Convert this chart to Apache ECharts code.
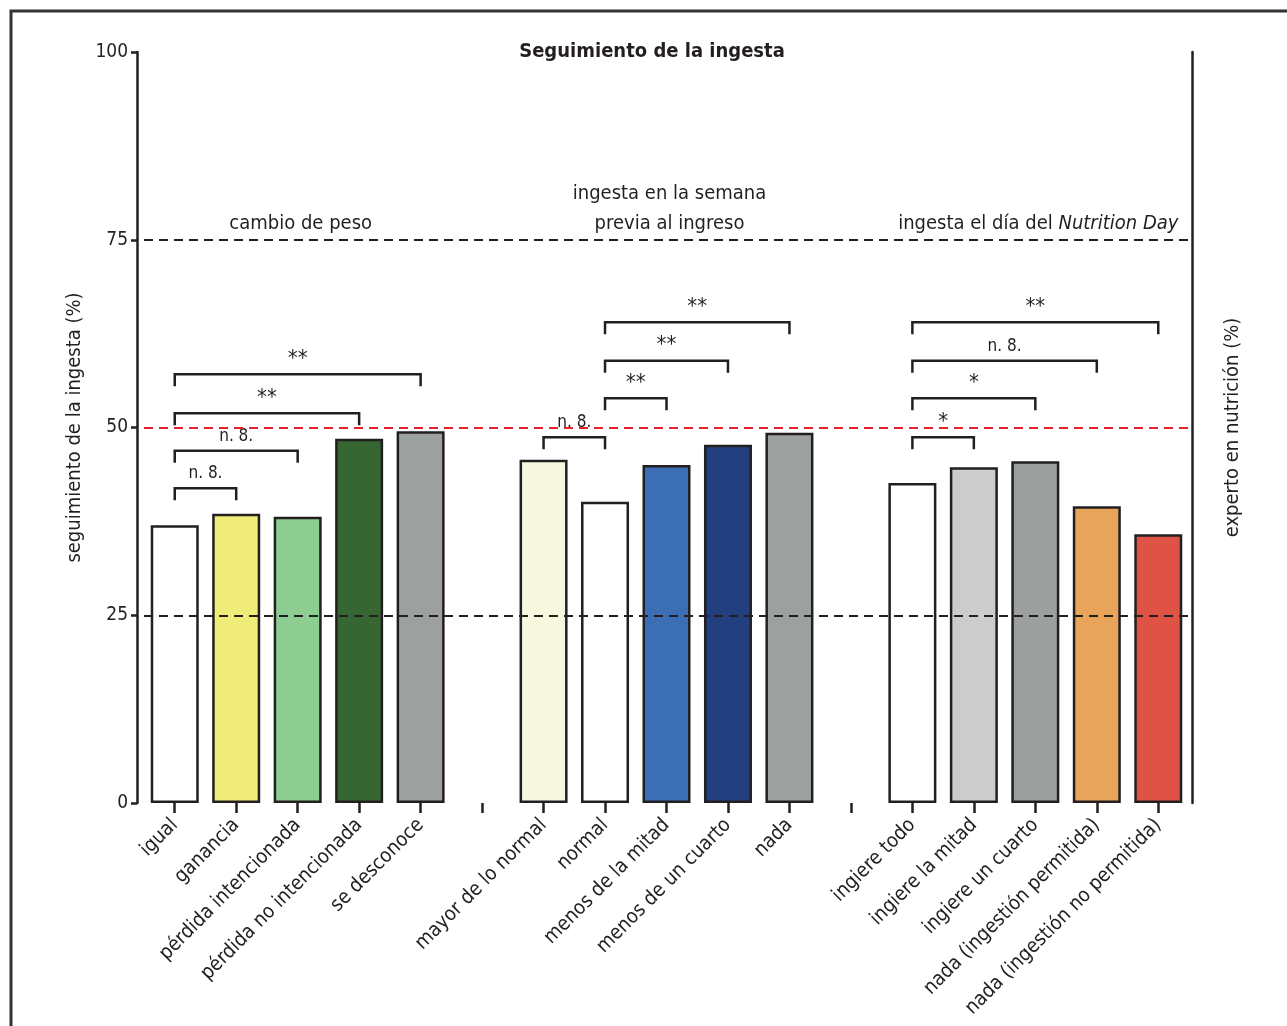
<!DOCTYPE html>
<html>
<head>
<meta charset="utf-8">
<title>Seguimiento de la ingesta</title>
<script src="https://cdn.jsdelivr.net/npm/echarts@6/dist/echarts.min.js"></script>
<style>
  html, body { margin: 0; padding: 0; background: #fff; }
  #main { width: 1287px; height: 1026px; }
</style>
</head>
<body>
<div id="main"></div>
<script>
// categorias (los huecos separan los tres bloques)
var categories = ['igual', 'ganancia', 'pérdida intencionada', 'pérdida no intencionada', 'se desconoce', ' ',
  'mayor de lo normal', 'normal', 'menos de la mitad', 'menos de un cuarto', 'nada', '  ',
  'ingiere todo', 'ingiere la mitad', 'ingiere un cuarto', 'nada (ingestión permitida)', 'nada (ingestión no permitida)']
var values = [37.0, 38.5, 38.1, 48.5, 49.5, null,
  45.7, 40.1, 45.0, 47.7, 49.3, null,
  42.6, 44.7, 45.5, 39.5, 35.8]
var barColors = ['#ffffff', '#efec7a', '#8ecd91', '#366631', '#9ca1a0', null,
  '#f6f8df', '#ffffff', '#3c6eb6', '#233f7f', '#9ca1a0', null,
  '#ffffff', '#cccccc', '#9ba09f', '#e8a45b', '#df5346']
var yTicks = [0, 25, 50, 75, 100]

// corchetes de significacion
var bracketFrom = [0, 0, 0, 0, 6, 7, 7, 7, 12, 12, 12, 12]
var bracketTo = [1, 2, 3, 4, 7, 8, 9, 10, 13, 14, 15, 16]
var bracketLevel = [41.9, 46.9, 51.9, 57.1, 48.7, 53.9, 58.9, 64.0, 48.7, 53.9, 58.9, 64.0]
var bracketLabel = ['n. 8.', 'n. 8.', '**', '**', 'n. 8.', '**', '**', '**', '*', '*', 'n. 8.', '**']

// titulos de cada bloque
var groupPos = [2, 8, 14]
var groupLabel = ['cambio de peso', 'ingesta en la semana\nprevia al ingreso', 'ingesta el día del {it|Nutrition Day}']

var FONT = "'DejaVu Sans Condensed', 'Liberation Sans Narrow', 'Roboto', sans-serif"
var INK = '#231f20'

var chart = echarts.init(document.getElementById('main'))

var barData = values.map(function (v, i) {
  if (v == null) return '-'
  return { value: v, itemStyle: { color: barColors[i] } }
})

var option = {
  animation: false,
  textStyle: { fontFamily: FONT },
  grid: { left: 144, right: 98, top: 52, bottom: 223 },
  graphic: [
    {
      type: 'rect',
      shape: { x: 11, y: 11, width: 1300, height: 1040 },
      style: { fill: 'none', stroke: '#333', lineWidth: 3 },
      silent: true
    },
    {
      type: 'text',
      x: 652, y: 52,
      style: {
        text: 'Seguimiento de la ingesta',
        align: 'center', verticalAlign: 'middle',
        font: 'bold 20px ' + FONT,
        fill: INK
      }
    }
  ],
  xAxis: {
    type: 'category',
    data: categories,
    axisLine: { show: false },
    axisTick: { show: true, alignWithLabel: true, length: 10, interval: 0, lineStyle: { color: INK, width: 2.5 } },
    axisLabel: { interval: 0, rotate: 45, margin: 19, fontSize: 20, color: INK, fontFamily: FONT },
    splitLine: { show: false }
  },
  yAxis: [
    {
      type: 'value',
      position: 'left',
      offset: 7,
      min: 0, max: 100, interval: 25,
      name: 'seguimiento de la ingesta (%)',
      nameLocation: 'middle',
      nameRotate: 90,
      nameGap: 45,
      nameTextStyle: { fontSize: 20, color: INK, fontFamily: FONT },
      axisLine: { show: true, lineStyle: { color: INK, width: 2.5 } },
      axisTick: { show: true, length: 6, lineStyle: { color: INK, width: 2.5 } },
      axisLabel: { fontSize: 19, color: INK, margin: 9, fontFamily: FONT,
        formatter: function (v) { return yTicks.indexOf(v) >= 0 ? String(v) : '' } },
      splitLine: { show: false }
    },
    {
      type: 'value',
      position: 'right',
      offset: 3,
      min: 0, max: 100, interval: 25,
      name: 'experto en nutrición (%)',
      nameLocation: 'middle',
      nameRotate: 90,
      nameGap: 31,
      nameTextStyle: { fontSize: 20, color: INK, fontFamily: FONT },
      axisLine: { show: true, lineStyle: { color: INK, width: 2.5 } },
      axisTick: { show: false },
      axisLabel: { show: false },
      splitLine: { show: false }
    }
  ],
  series: [
    {
      // lineas de referencia, detras de las barras
      type: 'line',
      data: [],
      z: 1,
      silent: true,
      markLine: {
        symbol: 'none',
        silent: true,
        label: { show: false },
        data: [
          { yAxis: 75, lineStyle: { color: INK, type: [9, 6], width: 2 } },
          { yAxis: 50, lineStyle: { color: '#e8202a', type: [9, 6], width: 2 } },
          { yAxis: 25, lineStyle: { color: INK, type: [9, 6], width: 2 } }
        ]
      }
    },
    {
      type: 'bar',
      data: barData,
      barWidth: 48,
      z: 3,
      itemStyle: { borderColor: INK, borderWidth: 2.5 }
    },
    {
      type: 'custom',
      z: 4,
      silent: true,
      encode: { x: [0, 1], y: 2 },
      data: bracketFrom.map(function (f, i) { return [f, bracketTo[i], bracketLevel[i]] }),
      renderItem: function (params, api) {
        var s = api.coord([api.value(0), api.value(2)])
        var e = api.coord([api.value(1), api.value(2)])
        var lab = bracketLabel[params.dataIndex]
        var star = lab.indexOf('*') >= 0
        return {
          type: 'group',
          children: [
            {
              type: 'polyline',
              shape: { points: [[s[0], s[1] + 12], [s[0], s[1]], [e[0], e[1]], [e[0], e[1] + 12]] },
              style: { stroke: INK, lineWidth: 2.5, fill: 'none' }
            },
            {
              type: 'text',
              x: (s[0] + e[0]) / 2,
              y: s[1] - (star ? 4 : 6),
              style: {
                text: lab,
                align: 'center', verticalAlign: 'bottom',
                font: (star ? 22 : 17) + 'px ' + FONT,
                fill: INK
              }
            }
          ]
        }
      }
    },
    {
      type: 'custom',
      z: 4,
      silent: true,
      encode: { x: 0, y: 1 },
      data: groupPos.map(function (p) { return [p, 76] }),
      renderItem: function (params, api) {
        var c = api.coord([api.value(0), api.value(1)])
        return {
          type: 'text',
          x: c[0] + 3,
          y: c[1] + 7,
          style: {
            text: groupLabel[params.dataIndex],
            align: 'center', verticalAlign: 'bottom',
            font: '20px ' + FONT,
            lineHeight: 30,
            fill: INK,
            rich: { it: { fontStyle: 'italic', fontSize: 20, fontFamily: FONT, fill: INK } }
          }
        }
      }
    }
  ]
}

option && chart.setOption(option)
</script>
</body>
</html>
